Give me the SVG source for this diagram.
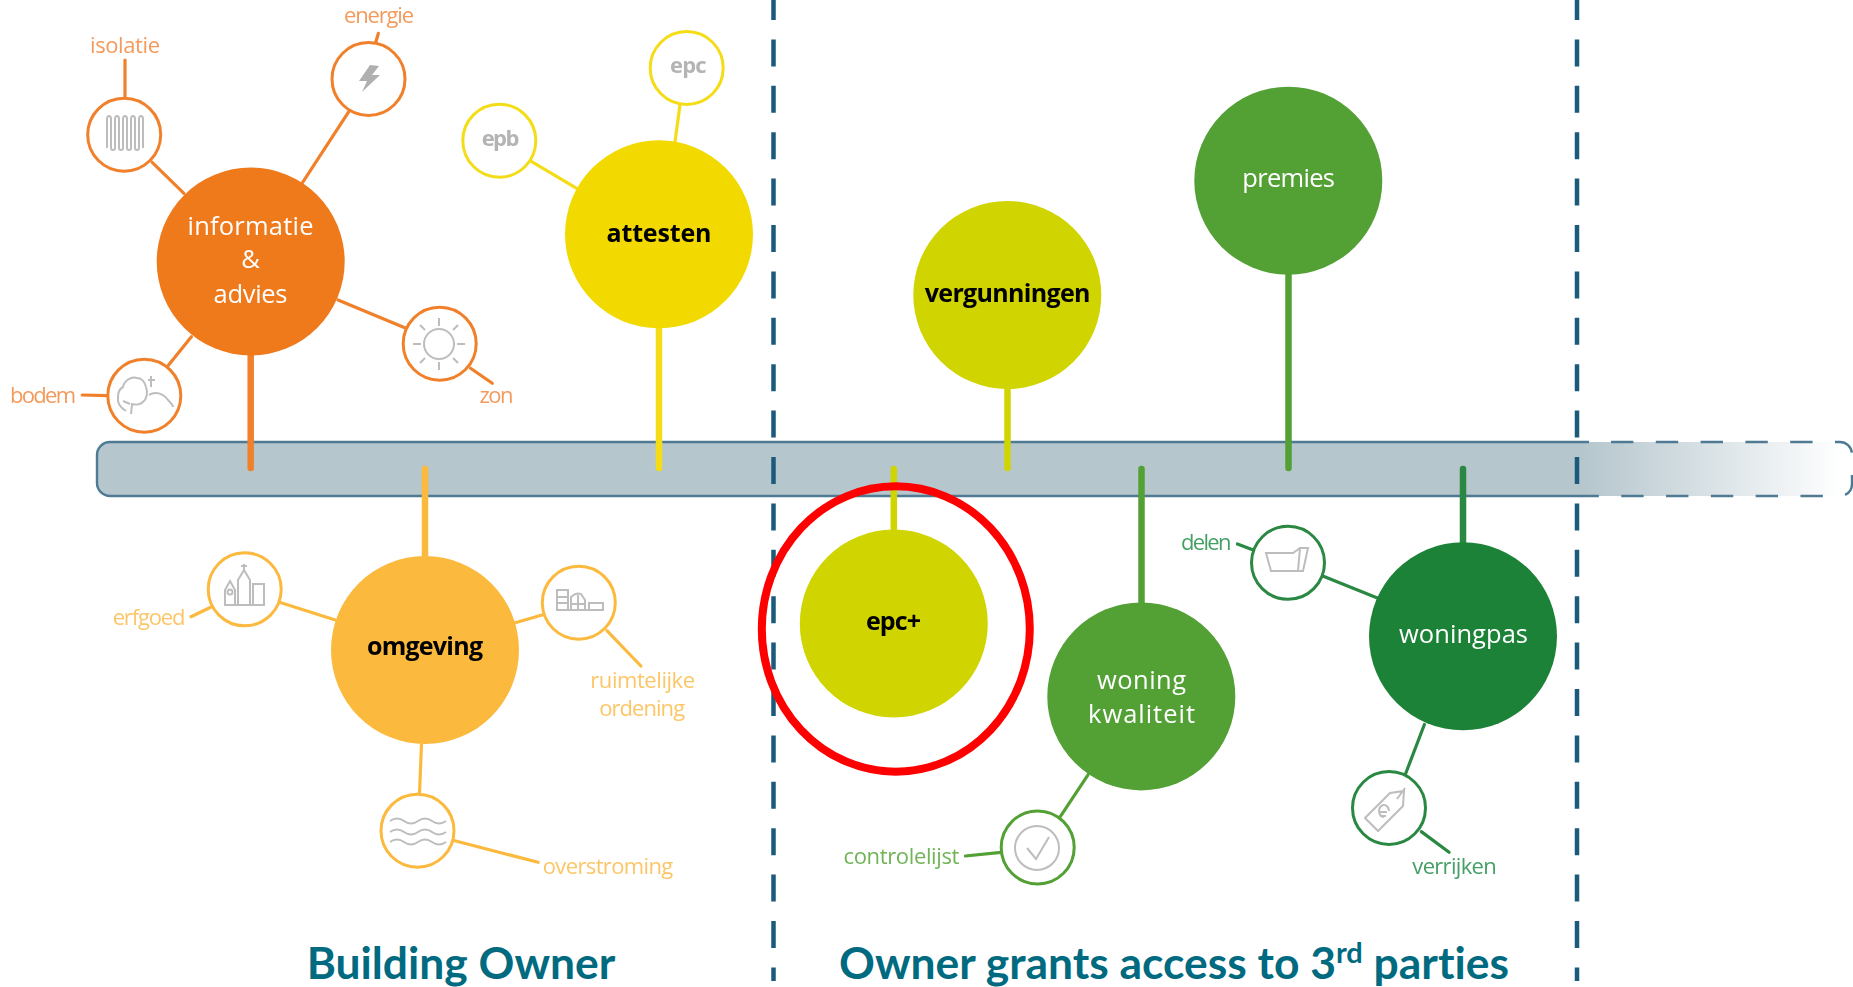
<svg xmlns="http://www.w3.org/2000/svg" width="1853" height="987" viewBox="0 0 1853 987">
<defs>
<linearGradient id="fade" gradientUnits="userSpaceOnUse" x1="1582" y1="0" x2="1842" y2="0"><stop offset="0" stop-color="#b5c6cd"/><stop offset="1" stop-color="#ffffff"/></linearGradient>
<filter id="soft" x="-2%" y="-2%" width="104%" height="104%"><feGaussianBlur stdDeviation="0.65"/></filter>
</defs>
<style>
text{font-family:"Open Sans","Noto Sans","Liberation Sans",sans-serif;text-anchor:middle}
.big{font-size:25.5px;fill:#fff;font-weight:500}
.dark{font-size:25px;fill:#000;font-weight:700}
.lab{font-size:22px}
.or{fill:#f39a5c}.ye{fill:#fcc667}.gr{fill:#6fb457}.dg{fill:#45a065}
.gt{fill:#b4b4b4;font-size:22px;font-weight:700}
.title{font-family:Lato,"Liberation Sans",sans-serif;font-weight:700;font-size:44.4px;fill:#006a80;font-variant-ligatures:none}
.sm{fill:#fff;stroke-width:3}
.ico{fill:none;stroke:#bdbdbd;stroke-width:2}
.c-or{stroke:#f0802c}.c-ye{stroke:#f4dc18}.c-om{stroke:#fbb93e}.c-gn{stroke:#53a035}.c-dg{stroke:#2a8843}.c-li{stroke:#d0d400}
.link{fill:none;stroke-width:3.2;stroke-linecap:round}
.stem{fill:none;stroke-width:6.5;stroke-linecap:round}
.vd{fill:none;stroke:#1c5a7c;stroke-width:4.5;stroke-dasharray:27 19.4}
</style>
<rect width="1853" height="987" fill="#fff"/>
<g filter="url(#soft)">
<g id="band">
<rect x="97" y="442" width="1755" height="54" rx="13" fill="url(#fade)"/>
<path d="M1589 442H110a13 13 0 0 0-13 13V483a13 13 0 0 0 13 13H1589" fill="none" stroke="#4f7a94" stroke-width="2.4"/>
<path d="M1589 442H1840a12 12 0 0 1 12 12V484a12 12 0 0 1-12 12H1589" fill="none" stroke="#4f7a94" stroke-width="2.4" stroke-dasharray="22.4 22.4" stroke-dashoffset="-22"/>
</g>
<g id="dividers">
<path class="vd" d="M773.5-7V981"/>
<path class="vd" d="M1577-7V981"/>
</g>
<g id="connectors">
<path class="stem c-or" d="M250.7 340V468"/>
<path class="stem c-ye" d="M659 320V468"/>
<path class="stem c-om" d="M425 469V560"/>
<path class="stem c-li" d="M1007.5 380V468"/>
<path class="stem c-li" d="M893.8 469V535"/>
<path class="stem c-gn" d="M1288.5 260V468"/>
<path class="stem c-gn" d="M1141.5 469V610"/>
<path class="stem c-dg" d="M1463 469V550"/>
<path class="link c-or" d="M125 60V98"/>
<path class="link c-or" d="M152.2 162.3L183.9 193.3"/>
<path class="link c-or" d="M348.8 111.7L302.5 182.7"/>
<path class="link c-or" d="M378.4 33.3L375.6 42.7"/>
<path class="link c-or" d="M168 365.7L191.4 336.7"/>
<path class="link c-or" d="M82.2 395L107.6 395.7"/>
<path class="link c-or" d="M338 300L406 328.3"/>
<path class="link c-or" d="M470.5 368.3L492.3 383.3"/>
<path class="link c-ye" d="M531.7 161.7L576.7 188.3"/>
<path class="link c-ye" d="M680 105L675 141.7"/>
<path class="link c-om" d="M281 602.7L335.3 620"/>
<path class="link c-om" d="M191 616.7L210.7 607.3"/>
<path class="link c-om" d="M515.2 622.7L542.9 614.7"/>
<path class="link c-om" d="M606.9 630.7L640.9 666"/>
<path class="link c-om" d="M421.5 744.3L419.5 794"/>
<path class="link c-om" d="M454.7 840.7L538.1 862.3"/>
<path class="link c-gn" d="M1060.3 816.7L1088 774.8"/>
<path class="link c-gn" d="M965.4 856L1001 852.3"/>
<path class="link c-dg" d="M1237.4 544L1253.3 549.9"/>
<path class="link c-dg" d="M1324 576.6L1377.4 598"/>
<path class="link c-dg" d="M1424.4 724.5L1405.6 773.7"/>
<path class="link c-dg" d="M1421.3 831.6L1449.1 852.2"/>
</g>
<g id="informatie-advies">
<circle cx="250.7" cy="261.5" r="94" fill="#ef7a1e"/>
<text class="big" x="250.5" y="235" textLength="126">informatie</text>
<text class="big" x="250.5" y="268">&amp;</text>
<text class="big" x="250.5" y="302.5" textLength="74">advies</text>
</g>
<g id="isolatie">
<circle class="sm c-or" cx="124.2" cy="134.7" r="36.5"/>
<path class="ico" stroke-width="2.6" d="M107 148V119q0-3 2-3t2 3V148q0 2 2 2t2-2V119q0-3 2-3t2 3V148q0 2 2 2t2-2V119q0-3 2-3t2 3V148q0 2 2 2t2-2V119q0-3 2-3t2 3V148q0 2 2 2t2-2V119q0-3 2-3t2 3V148"/>
<text class="lab or" x="125" y="53.3" textLength="70">isolatie</text>
</g>
<g id="energie">
<circle class="sm c-or" cx="368.5" cy="79" r="36.5"/>
<path d="M370 65L359 81H367L362 92L380 75H372L379 66Z" fill="#b0b0b0"/>
<text class="lab or" x="379" y="23.3" textLength="70">energie</text>
</g>
<g id="bodem">
<circle class="sm c-or" cx="144.3" cy="395.7" r="36.5"/>
<path class="ico" d="M126 411c-5-3-9-8-8-14 0-4 1-8 5-10 1-6 8-11 14-9 5 0 8 5 9 9 2 5 1 12-3 15-3 3-8 3-11 2l-1 10M130 404l-7-3M149 395c6-4 14-2 19 5 3 3 5 5 5 7M151 376v11M148 380h7" stroke-width="1.7"/>
<text class="lab or" x="43" y="402.7" textLength="66">bodem</text>
</g>
<g id="zon">
<circle class="sm c-or" cx="439.7" cy="343.7" r="36.5"/>
<circle class="ico" cx="439" cy="344" r="15"/>
<path class="ico" d="M439 318v8M439 362v8M413 344h8M457 344h8M420 325l5 5M453 358l5 5M458 325l-5 5M425 358l-5 5"/>
<text class="lab or" x="496.5" y="403.3" textLength="34">zon</text>
</g>
<g id="attesten">
<circle cx="659" cy="234.3" r="94" fill="#f2d900"/>
<text class="dark" x="659" y="241.7" textLength="105">attesten</text>
</g>
<g id="epb">
<circle class="sm c-ye" cx="499.3" cy="140.7" r="36.5"/>
<text class="gt" x="500.5" y="145.7" textLength="37.7">epb</text>
</g>
<g id="epc">
<circle class="sm c-ye" cx="686.7" cy="68" r="36.5"/>
<text class="gt" x="688.3" y="73.3" textLength="36.7">epc</text>
</g>
<g id="omgeving">
<circle cx="425" cy="650" r="94" fill="#fbb93e"/>
<text class="dark" x="425" y="655" textLength="116">omgeving</text>
</g>
<g id="erfgoed">
<circle class="sm c-om" cx="244.7" cy="589.3" r="36.5"/>
<path class="ico" d="M225 605V590l5-9 5 9V605ZM238 605V580l6-10 6 10V605ZM253 605V584h11V605ZM224 605h41M244 570v-6M241 566h6" stroke-width="1.8"/>
<circle class="ico" cx="230" cy="592" r="2.5" stroke-width="1.4"/>
<text class="lab ye" x="149" y="625" textLength="72.7">erfgoed</text>
</g>
<g id="ruimtelijke-ordening">
<circle class="sm c-om" cx="578.8" cy="602.7" r="36.5"/>
<path class="ico" d="M557 610V590h11V610ZM557 597h11M557 603h11M571 610V597q5-5 10-3l4 6V610ZM571 604h14M578 595v15M589 610V603h14V610ZM556 610h48" stroke-width="1.8"/>
<text class="lab ye" x="642.7" y="688.3" textLength="104.8">ruimtelijke</text>
<text class="lab ye" x="642.2" y="716" textLength="85.8">ordening</text>
</g>
<g id="overstroming">
<circle class="sm c-om" cx="417.5" cy="830.7" r="36.5"/>
<path class="ico" d="M390 821q7-5 14 0t14 0t14 0t14 0M390 832q7-5 14 0t14 0t14 0t14 0M390 842q7-5 14 0t14 0t14 0t14 0" stroke-width="2.4"/>
<text class="lab ye" x="608" y="874.3" textLength="130.5">overstroming</text>
</g>
<g id="epc-plus">
<circle cx="893.8" cy="623.5" r="94" fill="#d0d400"/>
<text class="dark" x="893.5" y="630" textLength="55">epc+</text>
</g>
<g id="vergunningen">
<circle cx="1007.3" cy="295" r="94" fill="#d0d400"/>
<text class="dark" x="1007.6" y="301.7" textLength="165.7">vergunningen</text>
</g>
<g id="premies">
<circle cx="1288.3" cy="180.7" r="94" fill="#53a035"/>
<text class="big" x="1288.6" y="187.3" textLength="92.7">premies</text>
</g>
<g id="woning-kwaliteit">
<circle cx="1141.3" cy="696.4" r="94" fill="#53a035"/>
<text class="big" x="1141.5" y="688.7" textLength="89">woning</text>
<text class="big" x="1141.5" y="722.5" textLength="107">kwaliteit</text>
</g>
<g id="controlelijst">
<circle class="sm c-gn" cx="1037.7" cy="847.4" r="36.5"/>
<circle class="ico" cx="1037" cy="848" r="22" stroke-width="1.8"/>
<path class="ico" d="M1027 848l9 11 13-22" stroke-width="1.8"/>
<text class="lab gr" x="901.5" y="863.8" textLength="115.9">controlelijst</text>
</g>
<g id="woningpas">
<circle cx="1463" cy="636.3" r="94" fill="#1f8238"/>
<text class="big" x="1463.5" y="643" textLength="129">woningpas</text>
</g>
<g id="delen">
<circle class="sm c-dg" cx="1288" cy="562.8" r="36.5"/>
<path class="ico" d="M1266 553h27l7-5 8 0-5 23h-32ZM1300 548l-2 23" stroke-width="1.8"/>
<text class="lab dg" x="1206.2" y="549.9" textLength="50.6">delen</text>
</g>
<g id="verrijken">
<circle class="sm c-dg" cx="1389" cy="808" r="36.5"/>
<path class="ico" d="M1365 818l25-25 14-2-1 15-25 25ZM1397 799l8-11" stroke-width="1.7"/>
<path class="ico" d="M1389 811a5 6 0 1 0-5 6M1379 812h8M1380 816h6" stroke-width="1.6"/>
<text class="lab dg" x="1454.5" y="874.2" textLength="84.3">verrijken</text>
</g>
</g>
<ellipse id="highlight" cx="895.8" cy="629" rx="134" ry="142.7" fill="none" stroke="#ff0000" stroke-width="8"/>
<text class="title" x="461" y="979" id="title-owner">Building Owner</text>
<text class="title" x="1174" y="979" id="title-access">Owner grants access to 3<tspan font-size="29" dy="-16">rd</tspan><tspan dy="16"> parties</tspan></text>
</svg>
